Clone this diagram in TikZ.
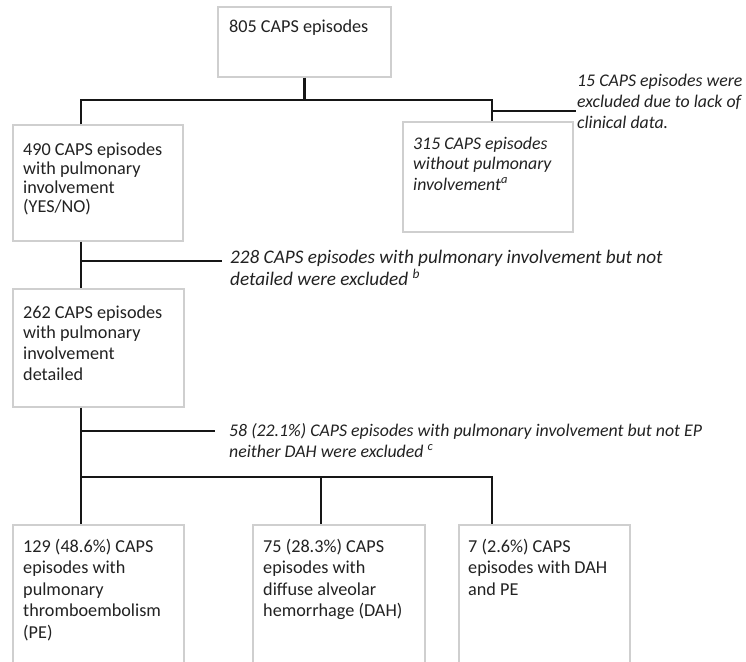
\documentclass[tikz,border=0pt]{standalone}
\usepackage{fontspec}
\setmainfont{Carlito}
\usetikzlibrary{calc}
\definecolor{txtc}{HTML}{222222}
\definecolor{linec}{HTML}{161616}
\definecolor{boxc}{HTML}{CFCFCF}
\newcommand{\mlines}[1]{\begin{tabular}[t]{@{}l@{}}#1\end{tabular}}
\tikzset{
  box/.style={draw=boxc, line width=1.2pt, fill=white, inner sep=0pt, rectangle},
  conn/.style={draw=linec, line width=2.9pt, line join=miter},
  txt/.style={text=txtc, inner sep=0pt, anchor=base west, font=\fontsize{18.2}{#1}\selectfont},
  txt/.default={20},
  itxt/.style={txt=#1, font=\fontsize{17.8}{#1}\selectfont\itshape},
  itxt/.default={20},
  bigitxt/.style={txt=#1, font=\fontsize{19.2}{#1}\selectfont\itshape}
}
\begin{document}
\begin{tikzpicture}[x=1pt,y=-1pt]
\useasboundingbox (0,0) rectangle (746,661);
\clip (0,0) rectangle (746,661);
\fill[white] (0,0) rectangle (746,661);
% boxes
\node[box, minimum width=173, minimum height=70] (n805) at (304.5,42) {};
\node[box, minimum width=170, minimum height=116] (n490) at (98,183) {};
\node[box, minimum width=170, minimum height=110] (n315) at (488,177) {};
\node[box, minimum width=171, minimum height=118] (n262) at (98.5,348) {};
\node[box, minimum width=171, minimum height=175] (n129) at (98.5,612.5) {};
\node[box, minimum width=172, minimum height=175] (n75) at (339,612.5) {};
\node[box, minimum width=171, minimum height=175] (n7) at (544.5,612.5) {};
% texts in boxes
\node[txt] (t805) at (229,33) {805 CAPS episodes};
\node[txt=19.2] (t490) at (23,155) {\mlines{490 CAPS episodes\\with pulmonary\\involvement\\(YES/NO)}};
\node[itxt=20.5] (t315) at (413,149) {\mlines{315 CAPS episodes\\without pulmonary\\involvement\textsuperscript{a}}};
\node[txt=20.7] (t262) at (23,318) {\mlines{262 CAPS episodes\\with pulmonary\\involvement\\detailed}};
\node[txt=21.5] (t129) at (23,552) {\mlines{129 (48.6\%) CAPS\\episodes with\\pulmonary\\thromboembolism\\(PE)}};
\node[txt=21.5] (t75) at (263,552) {\mlines{75 (28.3\%) CAPS\\episodes with\\diffuse alveolar\\hemorrhage (DAH)}};
\node[txt=21.5] (t7) at (468,552) {\mlines{7 (2.6\%) CAPS\\episodes with DAH\\and PE}};
% exclusion texts
\node[itxt=21] (t15) at (577,86) {\mlines{15 CAPS episodes were\\excluded due to lack of\\clinical data.}};
\node[bigitxt=19.5] (t228) at (230,263) {\mlines{228 CAPS episodes with pulmonary involvement but not\\detailed were excluded \textsuperscript{b}}};
\node[itxt=21] (t58) at (229,436) {\mlines{58 (22.1\%) CAPS episodes with pulmonary involvement but not EP\\neither DAH were excluded \textsuperscript{c}}};
% junction coordinates
\coordinate (h1L) at (81,100);
\coordinate (h1R) at (492,100);
\coordinate (x15) at (576,111);
\coordinate (x228) at (222,261);
\coordinate (x58) at (215,431);
\coordinate (h3R) at (492,477);
\coordinate (h3M) at (321,477);
% connectors
\draw[conn] (n805.south) -- (n805.south |- h1L);
\draw[conn] (h1L |- n490.north) -- (h1L) -- (h1R) -- (h1R |- n315.north);
\draw[conn] (h1R |- x15) -- (x15);
\draw[conn] (h1L |- n490.south) -- (h1L |- n262.north);
\draw[conn] (h1L |- x228) -- (x228);
\draw[conn] (h1L |- n262.south) -- (h1L |- n129.north);
\draw[conn] (h1L |- x58) -- (x58);
\draw[conn] (h1L |- h3R) -- (h3R) -- (h3R |- n7.north);
\draw[conn] (h3M) -- (h3M |- n75.north);
\end{tikzpicture}
\end{document}
